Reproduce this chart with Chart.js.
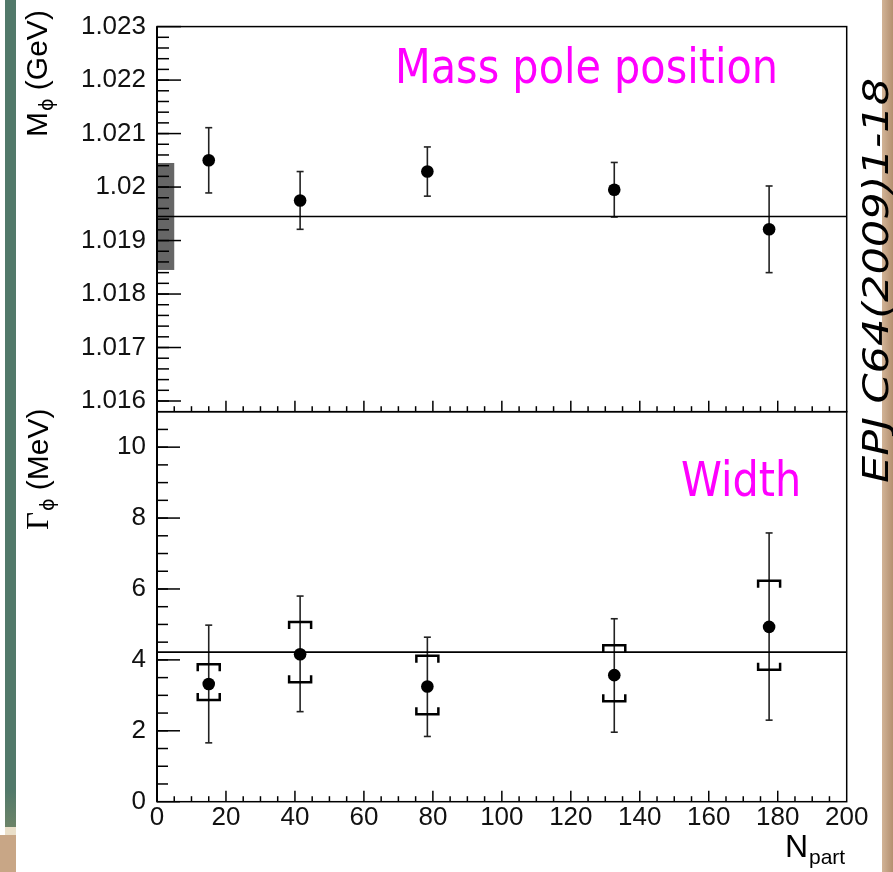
<!DOCTYPE html>
<html>
<head>
<meta charset="utf-8">
<title>phi mass and width vs Npart</title>
<script src="https://cdn.jsdelivr.net/npm/chart.js@4"></script>
<style>
  html, body { margin: 0; padding: 0; background: #fff; }
  #page { position: relative; width: 893px; height: 872px; overflow: hidden; background: #fff; }
  #page canvas { position: absolute; left: 0; top: 0; }
  .strip { position: absolute; }
</style>
</head>
<body>
<div id="page">
  <div class="strip" style="left:5px;top:0;width:11px;height:828px;background:linear-gradient(#52796a 0,#52796a 790px,#6d8468 828px)"></div>
  <div class="strip" style="left:5px;top:827px;width:11px;height:8px;background:#eadfc9"></div>
  <div class="strip" style="left:0;top:835px;width:16px;height:37px;background:#c8a686"></div>
  <div class="strip" style="left:882px;top:0;width:11px;height:872px;background:linear-gradient(to right,#d2b497,#b38f6f)"></div>
  <canvas id="massChart" width="893" height="872"></canvas>
  <canvas id="widthChart" width="893" height="872"></canvas>
</div>
<script>
// N_part of each centrality bin
const nPart = [15, 41.5, 78.4, 132.6, 177.5];

// phi mass pole position (GeV) with errors
const massVal = [1.0205, 1.01975, 1.02029, 1.01995, 1.01921];
const massErr = [0.00061, 0.00054, 0.00046, 0.00051, 0.00081];
const massRef = 1.01945;
const massBandY = [1.01845, 1.02045];
const massBandX = [0, 5];

// phi width (MeV): value, statistical and systematic limits
const widthVal = [3.32, 4.16, 3.25, 3.57, 4.93];
const widthStatHi = [4.98, 5.80, 4.64, 5.16, 7.58];
const widthStatLo = [1.66, 2.54, 1.84, 1.96, 2.30];
const widthSysHi = [3.88, 5.07, 4.12, 4.41, 6.23];
const widthSysLo = [2.87, 3.37, 2.47, 2.83, 3.72];
const widthRef = 4.22;

// axis ticks
const massTicks = [1.016, 1.017, 1.018, 1.019, 1.020, 1.021, 1.022, 1.023];
const widthTicks = [0, 2, 4, 6, 8, 10];
const nPartTicks = [0, 20, 40, 60, 80, 100, 120, 140, 160, 180, 200];

const tickFont = { family: '"Liberation Sans", Arial, sans-serif', size: 26 };
const SANS = '"Liberation Sans", Arial, sans-serif';

function minorValues(lo, hi, step) {
  const out = [];
  const n = Math.round((hi - lo) / step);
  for (let i = 0; i <= n; i++) out.push(lo + i * step);
  return out;
}

function line(ctx, x1, y1, x2, y2) {
  ctx.beginPath();
  ctx.moveTo(x1, y1);
  ctx.lineTo(x2, y2);
  ctx.stroke();
}

// ROOT-like frame with ticks pointing into the pad
function drawFrame(chart, yMinor, yMajorLen, yMinorLen) {
  const { ctx, chartArea: a, scales } = chart;
  const x = scales.x, y = scales.y;
  ctx.save();
  ctx.strokeStyle = '#000';
  ctx.lineWidth = 1.5;
  ctx.strokeRect(a.left, a.top, a.right - a.left, a.bottom - a.top);
  ctx.lineWidth = 2;
  line(ctx, a.left, a.top, a.left, a.bottom);

  ctx.lineWidth = 1.5;
  y.ticks.forEach(t => {
    const py = y.getPixelForValue(t.value);
    line(ctx, a.left, py, a.left + yMajorLen, py);
  });
  yMinor.forEach(v => {
    const py = y.getPixelForValue(v);
    if (py > a.top + 1 && py < a.bottom - 1) line(ctx, a.left, py, a.left + yMinorLen, py);
  });
  minorValues(0, 200, 5).forEach(v => {
    const px = x.getPixelForValue(v);
    const len = v % 20 === 0 ? 11 : 5.5;
    if (px > a.left + 1 && px < a.right - 1) line(ctx, px, a.bottom, px, a.bottom - len);
  });
  ctx.restore();
}

function fitText(ctx, text, x, y, sx) {
  ctx.save();
  ctx.translate(x, y);
  ctx.scale(sx, 1);
  ctx.fillText(text, 0, 0);
  ctx.restore();
}

const massPanel = {
  id: 'massPanel',
  beforeDatasetsDraw(chart) {
    const { ctx, scales: { x, y } } = chart;
    ctx.save();
    // gray band at the left edge
    ctx.fillStyle = '#666';
    const bx0 = x.getPixelForValue(massBandX[0]), bx1 = x.getPixelForValue(massBandX[1]);
    const by0 = y.getPixelForValue(massBandY[1]), by1 = y.getPixelForValue(massBandY[0]);
    ctx.fillRect(bx0, by0, bx1 - bx0, by1 - by0);
    // error bars
    ctx.strokeStyle = '#222';
    ctx.lineWidth = 1.6;
    nPart.forEach((n, i) => {
      const px = x.getPixelForValue(n);
      const top = y.getPixelForValue(massVal[i] + massErr[i]);
      const bot = y.getPixelForValue(massVal[i] - massErr[i]);
      line(ctx, px, top, px, bot);
      line(ctx, px - 3.5, top, px + 3.5, top);
      line(ctx, px - 3.5, bot, px + 3.5, bot);
    });
    ctx.restore();
  },
  afterDraw(chart) {
    drawFrame(chart, minorValues(1.016, 1.023, 0.0002), 24, 12);
  }
};

const widthPanel = {
  id: 'widthPanel',
  beforeDatasetsDraw(chart) {
    const { ctx, scales: { x, y } } = chart;
    ctx.save();
    ctx.strokeStyle = '#222';
    ctx.lineWidth = 1.6;
    nPart.forEach((n, i) => {
      const px = x.getPixelForValue(n);
      const top = y.getPixelForValue(widthStatHi[i]);
      const bot = y.getPixelForValue(widthStatLo[i]);
      line(ctx, px, top, px, bot);
      line(ctx, px - 3.5, top, px + 3.5, top);
      line(ctx, px - 3.5, bot, px + 3.5, bot);
    });
    // systematic brackets
    ctx.strokeStyle = '#000';
    ctx.lineWidth = 2.5;
    nPart.forEach((n, i) => {
      const px = x.getPixelForValue(n);
      const hi = y.getPixelForValue(widthSysHi[i]);
      const lo = y.getPixelForValue(widthSysLo[i]);
      ctx.beginPath();
      ctx.moveTo(px - 11, hi + 7); ctx.lineTo(px - 11, hi); ctx.lineTo(px + 11, hi); ctx.lineTo(px + 11, hi + 7);
      ctx.moveTo(px - 11, lo - 7); ctx.lineTo(px - 11, lo); ctx.lineTo(px + 11, lo); ctx.lineTo(px + 11, lo - 7);
      ctx.stroke();
    });
    ctx.restore();
  },
  afterDraw(chart) {
    drawFrame(chart, minorValues(0, 11, 0.5), 23, 11);
    const { ctx } = chart;
    ctx.save();
    ctx.fillStyle = '#000';
    ctx.textAlign = 'left';
    ctx.textBaseline = 'alphabetic';

    // y titles
    ctx.save();
    ctx.translate(47, 137);
    ctx.rotate(-Math.PI / 2);
    ctx.font = '30px ' + SANS;
    ctx.fillText('M', 0, 0);
    let w = ctx.measureText('M').width;
    ctx.font = '19px "DejaVu Sans", sans-serif';
    ctx.fillText('\u03d5', w + 1, 6);
    const sw = ctx.measureText('\u03d5').width;
    ctx.font = '30px ' + SANS;
    ctx.fillText(' (GeV)', w + sw + 1, 0);
    ctx.restore();

    ctx.save();
    ctx.translate(48, 530);
    ctx.rotate(-Math.PI / 2);
    ctx.font = '31px "Liberation Serif", serif';
    ctx.fillText('\u0393', 0, 0);
    w = ctx.measureText('\u0393').width;
    ctx.font = '19px "DejaVu Sans", sans-serif';
    ctx.fillText('\u03d5', w + 1, 6);
    const sw2 = ctx.measureText('\u03d5').width;
    ctx.font = '30px ' + SANS;
    ctx.fillText(' (MeV)', w + sw2 + 1, 0);
    ctx.restore();

    // x title
    ctx.font = '32px ' + SANS;
    ctx.fillText('N', 785, 857);
    ctx.font = '21px ' + SANS;
    ctx.fillText('part', 809, 864);

    // panel labels
    ctx.fillStyle = '#ff00ff';
    ctx.font = '48px "DejaVu Sans", sans-serif';
    const sx = 383 / ctx.measureText('Mass pole position').width;
    fitText(ctx, 'Mass pole position', 395, 83, sx);
    fitText(ctx, 'Width', 681, 496, sx);

    // reference
    ctx.fillStyle = '#000';
    ctx.font = 'italic 36px "DejaVu Sans", sans-serif';
    ctx.save();
    ctx.translate(888, 483);
    ctx.rotate(-Math.PI / 2);
    const ref = 'EPJ C64(2009)1-18';
    ctx.scale(405 / ctx.measureText(ref).width, 1);
    ctx.fillText(ref, 0, 0);
    ctx.restore();
    ctx.restore();
  }
};

const common = {
  responsive: false,
  animation: false,
  events: [],
  plugins: { legend: { display: false }, tooltip: { enabled: false } }
};

function yAxis(min, max, ticks, fmt) {
  return {
    type: 'linear', min, max,
    afterFit: s => { s.width = 157; },
    afterBuildTicks: s => { s.ticks = ticks.map(v => ({ value: v })); },
    grid: { display: false, drawTicks: false },
    border: { display: false },
    ticks: { padding: 11, font: tickFont, color: '#111', callback: fmt }
  };
}

new Chart(document.getElementById('massChart'), {
  type: 'scatter',
  data: {
    datasets: [
      {
        showLine: true, order: 2, pointRadius: 0, borderColor: '#000', borderWidth: 1.6,
        data: [{ x: nPartTicks[0], y: massRef }, { x: nPartTicks[nPartTicks.length - 1], y: massRef }]
      },
      {
        order: 1, pointRadius: 6.3, backgroundColor: '#000', borderWidth: 0,
        data: nPart.map((n, i) => ({ x: n, y: massVal[i] }))
      }
    ]
  },
  options: {
    ...common,
    layout: { padding: { left: 0, right: 46.3, top: 22.5, bottom: 460.3 } },
    scales: {
      x: { type: 'linear', min: 0, max: 200, display: false },
      y: yAxis(1.0158, 1.023, massTicks, v => String(+v.toFixed(3)))
    }
  },
  plugins: [massPanel]
});

new Chart(document.getElementById('widthChart'), {
  type: 'scatter',
  data: {
    datasets: [
      {
        showLine: true, order: 2, pointRadius: 0, borderColor: '#000', borderWidth: 1.6,
        data: [{ x: nPartTicks[0], y: widthRef }, { x: nPartTicks[nPartTicks.length - 1], y: widthRef }]
      },
      {
        order: 1, pointRadius: 6.3, backgroundColor: '#000', borderWidth: 0,
        data: nPart.map((n, i) => ({ x: n, y: widthVal[i] }))
      }
    ]
  },
  options: {
    ...common,
    layout: { padding: { left: 0, right: 46.3, top: 411.7, bottom: 0 } },
    scales: {
      x: {
        type: 'linear', min: 0, max: 200,
        afterFit: s => { s.height = 70.3; },
        afterBuildTicks: s => { s.ticks = nPartTicks.map(v => ({ value: v })); },
        grid: { display: false, drawTicks: false },
        border: { display: false },
        ticks: { padding: 1, font: tickFont, color: '#111', autoSkip: false, maxRotation: 0 }
      },
      y: yAxis(0, 11, widthTicks, v => String(v))
    }
  },
  plugins: [widthPanel]
});
</script>
</body>
</html>
